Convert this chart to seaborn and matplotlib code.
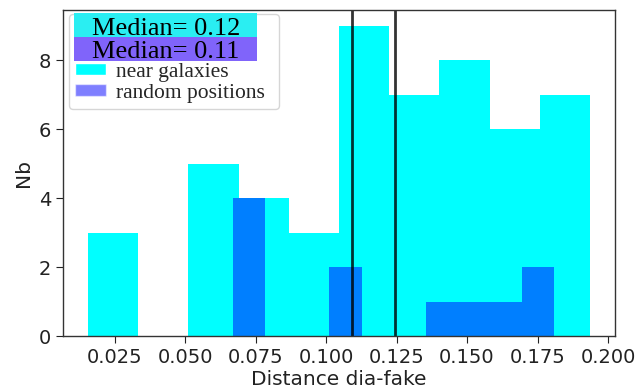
import numpy as np
import pandas as pd
import matplotlib
matplotlib.use("Agg")
import matplotlib.pyplot as plt
import seaborn as sns
from matplotlib.patches import Patch, Rectangle

# ---- data ----
near_range = (0.0155, 0.1936)
near_counts = [3, 0, 5, 4, 3, 9, 7, 8, 6, 7]
rand_range = (0.0669, 0.1810)
rand_counts = [4, 0, 0, 2, 0, 0, 1, 1, 1, 2]
median_lines = [0.1091, 0.1244]
median_labels = ["Median= 0.12", "Median= 0.11"]
series_labels = ["near galaxies", "random positions"]

near_edges = np.linspace(near_range[0], near_range[1], len(near_counts) + 1)
rand_edges = np.linspace(rand_range[0], rand_range[1], len(rand_counts) + 1)
near_df = pd.DataFrame({"d": (near_edges[:-1] + near_edges[1:]) / 2, "n": near_counts})
rand_df = pd.DataFrame({"d": (rand_edges[:-1] + rand_edges[1:]) / 2, "n": rand_counts})

sns.set_style("ticks")
plt.rcParams["font.family"] = ["DejaVu Sans"]

fig = plt.figure(figsize=(6.37, 3.89), dpi=100)
ax = fig.add_axes([63 / 637, 1 - 336 / 389, 552 / 637, 326 / 389])

sns.histplot(data=near_df, x="d", weights="n", bins=len(near_counts),
             binrange=near_range, color="cyan", alpha=1, linewidth=0, ax=ax)
sns.histplot(data=rand_df, x="d", weights="n", bins=len(rand_counts),
             binrange=rand_range, color="blue", alpha=0.5, linewidth=0, ax=ax)

for m in median_lines:
    ax.axvline(m, color="black", alpha=0.8, lw=2)

ax.set_xlabel("Distance dia-fake", fontsize=14.5, color="#222222", labelpad=2)
ax.set_ylabel("Nb", fontsize=14.5, color="#222222")
ax.tick_params(labelsize=14, colors="#222222", length=5)
ax.set_yticks([0, 2, 4, 6, 8])
for s in ax.spines.values():
    s.set_visible(True)
    s.set_color("#333333")
    s.set_linewidth(1)

handles = [Patch(facecolor="none", edgecolor="none"),
           Patch(facecolor="none", edgecolor="none"),
           Patch(facecolor="cyan", alpha=1),
           Patch(facecolor="blue", alpha=0.5)]
labels = [" ", " "] + series_labels
top_frac = 1 - 4 / 326
leg = ax.legend(handles, labels, loc="upper left", mode="expand",
                bbox_to_anchor=(6 / 552, top_frac - 0.2, 210 / 552, 0.2),
                borderaxespad=0, prop={"family": "Liberation Serif", "size": 15.5},
                handlelength=1.4, handleheight=0.45, handletextpad=0.5,
                labelspacing=0.1, borderpad=0.3)

box_colors = ["#2aeef2", "#8064fa"]
box_top = [13.5, 37.0]
box_h = 24.0
for lab, col, top in zip(median_labels, box_colors, box_top):
    y0 = (336 - top - box_h) / 326
    ax.add_patch(Rectangle((11 / 552, y0), 183 / 552, box_h / 326,
                           transform=ax.transAxes, facecolor=col,
                           edgecolor="none", zorder=10, clip_on=False))
    ax.text(29 / 552, (336 - top - box_h + 2.6) / 326, lab,
            transform=ax.transAxes, fontsize=19, family="Liberation Serif",
            va="baseline", ha="left", zorder=11, color="black")

fig.savefig("out.png", dpi=100)
